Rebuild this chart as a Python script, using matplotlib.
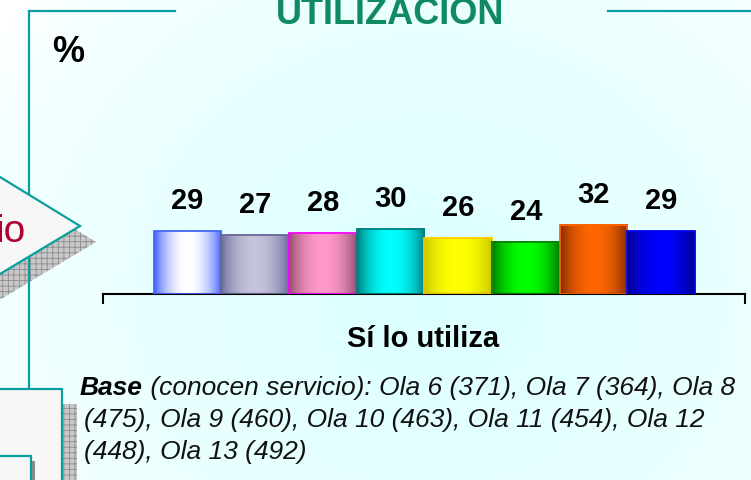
import matplotlib.pyplot as plt
import numpy as np
from matplotlib.colors import to_rgb
from matplotlib.patches import Polygon, Rectangle

plt.rcParams["font.family"] = ["Liberation Sans", "DejaVu Sans"]
plt.rcParams["hatch.linewidth"] = 0.6
plt.rcParams["hatch.color"] = "#8c8c8c"

# data
titulo = "UTILIZACION"
categoria = "Sí lo utiliza"
olas = ["Ola 6", "Ola 7", "Ola 8", "Ola 9", "Ola 10", "Ola 11", "Ola 12", "Ola 13"]
valores = [29, 27, 28, 30, 26, 24, 32, 29]
bases = [371, 364, 475, 460, 463, 454, 448, 492]

# cylinder-ish gradient: edge colour -> centre colour -> edge colour
bordes = ["#3355ff", "#66669a", "#8a4a66", "#007474", "#c4c400", "#007000", "#7a2800", "#000080"]
centros = ["#ffffff", "#c4c4da", "#ff99cc", "#00ffff", "#ffff00", "#00ff00", "#ff6600", "#0000ff"]
contornos = ["#4466ff", "#666699", "#ff00ff", "#008080", "#ffcc00", "#008000", "#ff6600", "#0000ee"]

TEAL = "#0a9e9e"
W, H = 751, 481

fig = plt.figure(figsize=(W / 100, H / 100), dpi=100)

# background / slide decorations in pixel coordinates
bg = fig.add_axes([0, 0, 1, 1])
bg.set_xlim(0, W)
bg.set_ylim(H, 0)
bg.axis("off")

yy, xx = np.mgrid[0:H, 0:W]
d = np.hypot((xx - 430) / 1.0, (yy - 300) / 0.9)
w = np.clip(1 - d / 520, 0, 1) ** 0.6
cyan = np.array(to_rgb("#dcffff"))
img = (1 - w)[..., None] * np.ones(3) + w[..., None] * cyan
bg.imshow(img, extent=(0, W, H, 0), aspect="auto", zorder=0)

# frame lines
bg.plot([29, 175], [12, 12], color=TEAL, lw=1.6, zorder=2)
bg.plot([608, W], [12, 12], color=TEAL, lw=1.6, zorder=2)

# arrow shape on the left with hatched shadow
flecha = [(-200, 178 - 0.6125 * 200), (80, 227), (-200, 275 + 0.6 * 200)]
sombra = [(x + 16, y + 16) for x, y in flecha]
bg.add_patch(Polygon(sombra, closed=True, facecolor="#c8c8c8", edgecolor="#8c8c8c",
                     hatch="+++", lw=0, zorder=1))
bg.plot([29, 29], [12, 390], color=TEAL, lw=1.6, zorder=2)
bg.add_patch(Polygon(flecha, closed=True, facecolor="#f7f7f7", edgecolor=TEAL,
                     lw=1.6, zorder=3))
bg.text(26, 242, "io", color="#b00030", fontsize=28, ha="right", va="baseline", zorder=4)

# boxes bottom-left
bg.add_patch(Rectangle((62, 405), 15, 90, facecolor="#c8c8c8", edgecolor="#8c8c8c",
                       hatch="+++", lw=0, zorder=1))
bg.add_patch(Rectangle((-10, 390), 72, 110, facecolor="#f7f7f7", edgecolor=TEAL,
                       lw=1.6, zorder=3))
bg.add_patch(Rectangle((31, 462), 4, 30, facecolor="#8a8a8a", lw=0, zorder=3))
bg.add_patch(Rectangle((-10, 457), 41, 40, facecolor="#f7f7f7", edgecolor=TEAL,
                       lw=1.6, zorder=4))

# texts
bg.text(390, 24, titulo, color="#108a60", fontsize=26, fontweight="bold",
        ha="center", va="baseline", zorder=5)
bg.text(52, 62, "%", fontsize=26, fontweight="bold", ha="left", va="baseline", zorder=5)
bg.text(423, 347, categoria, fontsize=21, fontweight="bold", ha="center",
        va="baseline", zorder=5)

# axis end ticks
bg.plot([103, 103], [295, 304], color="black", lw=1.5, zorder=5)
bg.plot([745, 745], [295, 304], color="black", lw=1.5, zorder=5)

# footnote
linea1 = (f" (conocen servicio): {olas[0]} ({bases[0]}), {olas[1]} ({bases[1]}), "
          f"{olas[2]}")
linea2 = (f"({bases[2]}), {olas[3]} ({bases[3]}), {olas[4]} ({bases[4]}), "
          f"{olas[5]} ({bases[5]}), {olas[6]}")
linea3 = f"({bases[6]}), {olas[7]} ({bases[7]})"
t1 = bg.text(80, 395, "Base", fontsize=19, fontweight="bold", fontstyle="italic",
             ha="left", va="baseline", zorder=5)
bg.annotate(linea1, xy=(1, 0), xycoords=t1, fontsize=19, fontstyle="italic",
            ha="left", va="bottom", color="#111111", zorder=5)
bg.text(84, 427, linea2, fontsize=19, fontstyle="italic", ha="left", va="baseline",
        color="#111111", zorder=5)
bg.text(84, 459, linea3, fontsize=19, fontstyle="italic", ha="left", va="baseline",
        color="#111111", zorder=5)

# the chart itself
ax = fig.add_axes([103 / W, 1 - 295 / H, 642 / W, 40 * 2.17 / H])
ax.patch.set_alpha(0)
x = np.arange(len(valores))
barras = ax.bar(x, valores, width=1.0, facecolor="none", edgecolor=contornos,
                lw=1.3, zorder=3)

t = np.linspace(0, 1, 80)
mezcla = np.sin(np.pi * t) ** 0.7
for b, borde, centro in zip(barras, bordes, centros):
    c0, c1 = np.array(to_rgb(borde)), np.array(to_rgb(centro))
    grad = (1 - mezcla)[:, None] * c0 + mezcla[:, None] * c1
    x0, y0 = b.get_xy()
    ax.imshow(grad[None, :, :], extent=(x0, x0 + b.get_width(), y0, y0 + b.get_height()),
              aspect="auto", interpolation="bilinear", zorder=2)

for b, v in zip(barras, valores):
    ax.annotate(f"{v}", xy=(b.get_x() + b.get_width() / 2, v), xytext=(0, 16.5),
                textcoords="offset points", ha="center", va="baseline",
                fontsize=21, fontweight="bold")

ax.set_xlim(-1.25, 8.24)
ax.set_ylim(0, 40)
for s in ["top", "left", "right"]:
    ax.spines[s].set_visible(False)
ax.spines["bottom"].set_linewidth(1.5)
ax.set_xticks([])
ax.set_yticks([])

fig.savefig("out.png", dpi=100)
